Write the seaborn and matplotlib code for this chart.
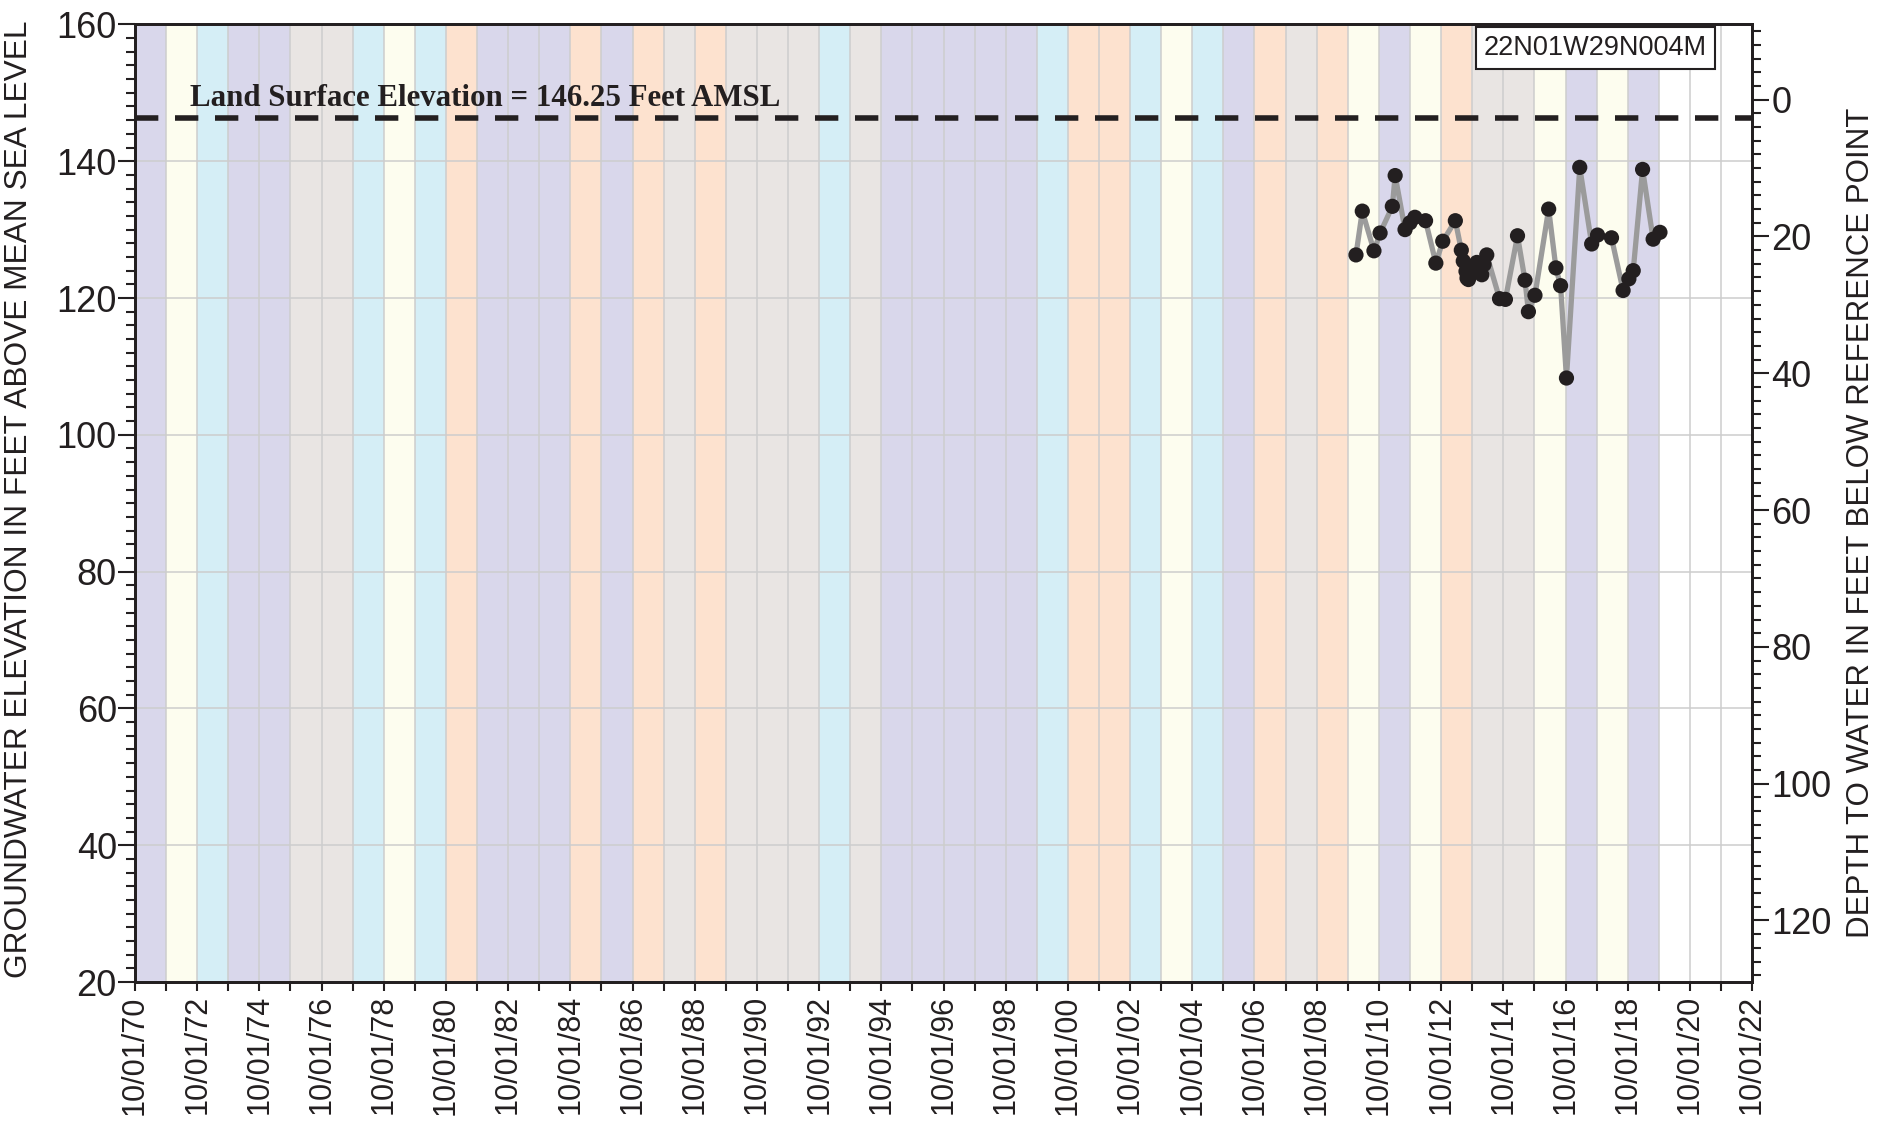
import numpy as np
import pandas as pd
import matplotlib
matplotlib.use("Agg")
import matplotlib.pyplot as plt
import matplotlib.dates as mdates
from matplotlib.ticker import MultipleLocator
import seaborn as sns

# Types d'années hydrologiques (WY1971 .. WY2019)
water_years = list(range(1971, 2020))
wy_types = ["W", "BN", "AN", "W", "W", "C", "C", "AN", "BN", "AN",
            "D", "W", "W", "W", "D", "W", "D", "C", "D", "C",
            "C", "C", "AN", "C", "W", "W", "W", "W", "W", "AN",
            "D", "D", "AN", "BN", "AN", "W", "D", "C", "D", "BN",
            "W", "BN", "D", "C", "C", "BN", "W", "BN", "W"]
type_colors = {"W": "#d9d7eb", "AN": "#d5eef6", "BN": "#fdfdef",
               "D": "#fde2cf", "C": "#e9e5e3"}

# Mesures (date, élévation de la nappe en pieds)
meas_dates = ["2010-01-05", "2010-03-20", "2010-08-04", "2010-10-15", "2011-03-08",
              "2011-04-10", "2011-08-04", "2011-10-01", "2011-11-28", "2012-04-01",
              "2012-07-31", "2012-10-20", "2013-03-17", "2013-05-26", "2013-06-18",
              "2013-07-20", "2013-08-01", "2013-08-18", "2013-09-27", "2013-11-24",
              "2013-12-12", "2014-01-22", "2014-02-17", "2014-03-21", "2014-08-18",
              "2014-10-26", "2015-03-17", "2015-06-13", "2015-07-23", "2015-10-08",
              "2016-03-17", "2016-06-10", "2016-08-04", "2016-10-12", "2017-03-17",
              "2017-08-04", "2017-10-12", "2018-03-25", "2018-08-08", "2018-10-15",
              "2018-12-05", "2019-03-25", "2019-07-27", "2019-10-15"]
gwe = [126.3, 132.7, 126.9, 129.5, 133.4,
       137.9, 130.0, 131.0, 131.8, 131.3,
       125.1, 128.3, 131.3, 127.0, 125.4,
       123.9, 122.9, 122.7, 124.4, 125.2,
       123.9, 123.4, 124.9, 126.3, 119.9,
       119.8, 129.1, 122.6, 118.0, 120.4,
       133.0, 124.4, 121.8, 108.3, 139.1,
       127.9, 129.2, 128.8, 121.1, 122.8,
       124.0, 138.8, 128.6, 129.6]

station = "22N01W29N004M"
land_surface = 146.25
ref_point = 149.0
y_left_ticks = [20, 40, 60, 80, 100, 120, 140, 160]
y_right_ticks = [0, 20, 40, 60, 80, 100, 120]

df = pd.DataFrame({"date": pd.to_datetime(meas_dates), "gwe": gwe})

sns.set_style("white")
plt.rcParams["font.family"] = ["Liberation Sans", "DejaVu Sans"]
ink = "#231f20"

fig = plt.figure(figsize=(18.87, 11.24), dpi=100)
ax = fig.add_axes([0.0715, 0.1263, 0.857, 0.852])

# Bandes de couleur par année hydrologique
for wy, t in zip(water_years, wy_types):
    ax.axvspan(pd.Timestamp(f"{wy - 1}-10-01"), pd.Timestamp(f"{wy}-10-01"),
               color=type_colors[t], lw=0, zorder=0)

sns.lineplot(data=df, x="date", y="gwe", color="#9b9b9b", lw=3.8, ax=ax, zorder=3)
sns.scatterplot(data=df, x="date", y="gwe", color=ink, s=120,
                edgecolor="none", ax=ax, zorder=4)

ax.axhline(land_surface, color=ink, lw=4, dashes=(4.2, 3.0), zorder=5)
ax.text(0.034, 148.0, "Land Surface Elevation = 146.25 Feet AMSL",
        transform=ax.get_yaxis_transform(), family=["Liberation Serif", "DejaVu Serif"],
        weight="bold", fontsize=22.2, color=ink, va="baseline", ha="left", zorder=6)
ax.text(0.972, 0.989, station, transform=ax.transAxes,
        fontsize=19.5, color=ink, ha="right", va="top", zorder=6,
        bbox=dict(boxstyle="square,pad=0.3", fc="white", ec=ink, lw=1.5))

ax.set_xlim(pd.Timestamp("1970-10-01"), pd.Timestamp("2022-10-01"))
ax.set_ylim(20, 160)
ax.xaxis.set_major_locator(mdates.YearLocator(2, month=10, day=1))
ax.xaxis.set_minor_locator(mdates.YearLocator(1, month=10, day=1))
ax.xaxis.set_major_formatter(mdates.DateFormatter("%m/%d/%y"))
ax.set_yticks(y_left_ticks)
ax.yaxis.set_minor_locator(MultipleLocator(2))

ax.set_axisbelow(True)
ax.grid(True, which="both", axis="x", color="#cdcdcd", lw=1.1)
ax.grid(True, which="major", axis="y", color="#cdcdcd", lw=1.1)

ax.tick_params(axis="x", which="both", direction="out", length=6.5, width=1.5,
               colors=ink, labelsize=22, rotation=90, pad=3, bottom=True)
ax.tick_params(axis="y", which="major", direction="out", length=12, width=1.5,
               colors=ink, labelsize=26, pad=1, left=True)
ax.tick_params(axis="y", which="minor", direction="out", length=6.5, width=1.5,
               colors=ink, left=True)

ax.set_xlabel("")
ax.set_ylabel("GROUNDWATER ELEVATION IN FEET ABOVE MEAN SEA LEVEL",
              fontsize=22.8, color=ink)
ax.yaxis.set_label_coords(-0.0625, 0.504)

for sp in ax.spines.values():
    sp.set_color(ink)
    sp.set_linewidth(2)

# Axe de droite : profondeur sous le point de référence
ax2 = ax.twinx()
ax2.set_ylim(ref_point - 20, ref_point - 160)
ax2.set_yticks(y_right_ticks)
ax2.yaxis.set_minor_locator(MultipleLocator(2))
ax2.tick_params(axis="y", which="major", direction="out", length=12, width=1.5,
                colors=ink, labelsize=26, pad=2, right=True)
ax2.tick_params(axis="y", which="minor", direction="out", length=6.5, width=1.5,
                colors=ink, right=True)
ax2.set_ylabel("DEPTH TO WATER IN FEET BELOW REFERENCE POINT",
               fontsize=22.5, color=ink)
ax2.yaxis.set_label_coords(1.058, 0.48)
for sp in ax2.spines.values():
    sp.set_color(ink)
    sp.set_linewidth(2)

fig.savefig("out.png", dpi=100)
